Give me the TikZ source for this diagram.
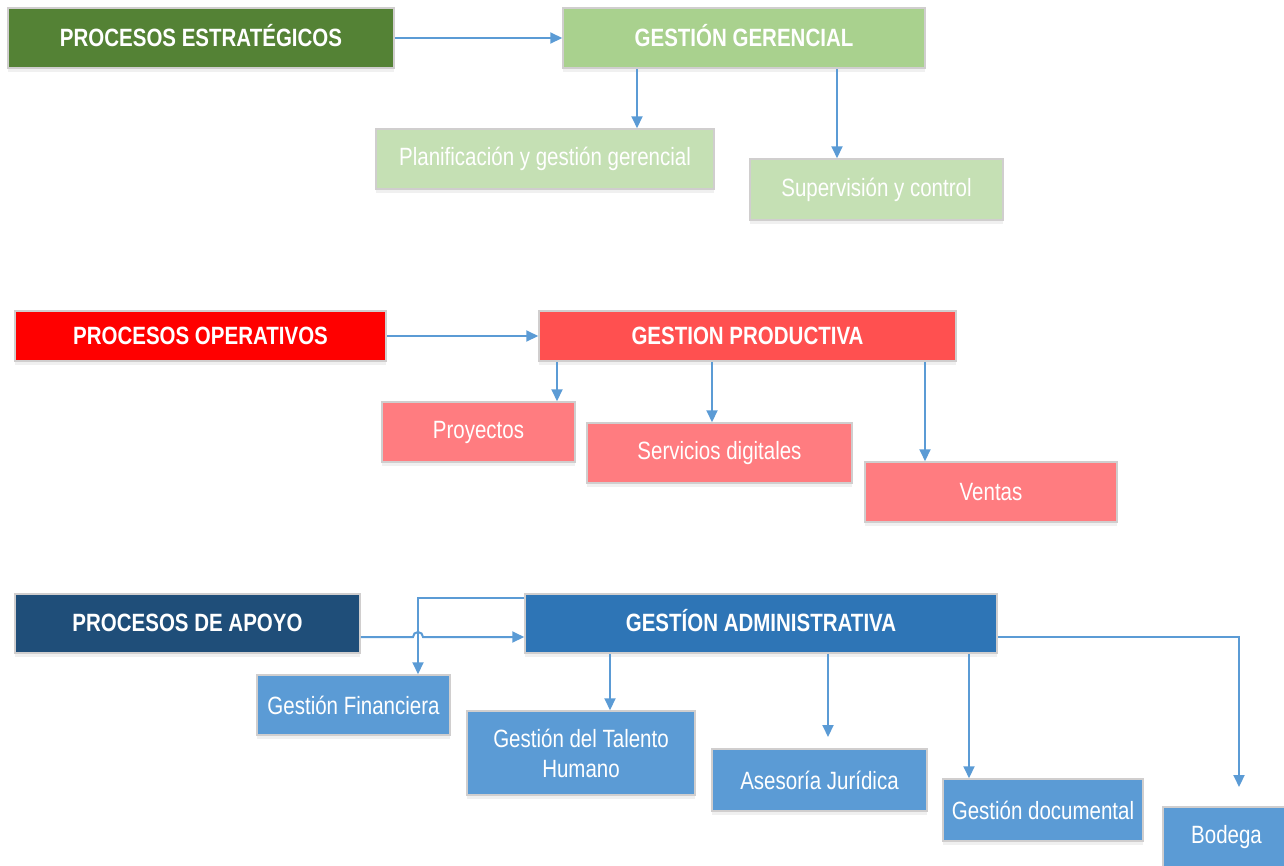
\documentclass[tikz,border=0pt]{standalone}
\usepackage{fontspec}
\setmainfont{Liberation Sans}[FakeStretch=0.82]
\usetikzlibrary{arrows.meta,shadows}
\definecolor{estA}{HTML}{548235}
\definecolor{estB}{HTML}{A9D18E}
\definecolor{estC}{HTML}{C5E0B4}
\definecolor{opA}{HTML}{FF0000}
\definecolor{opB}{HTML}{FF5050}
\definecolor{opC}{HTML}{FF7C80}
\definecolor{apA}{HTML}{1F4E79}
\definecolor{apB}{HTML}{2E75B6}
\definecolor{apC}{HTML}{5B9BD5}
\definecolor{linkc}{HTML}{5B9BD5}
\definecolor{rim}{HTML}{D0CECE}
\tikzset{
  box/.style={draw=rim, line width=1.5pt, text=white, align=center,
    inner sep=0pt, font=\fontsize{25}{30}\selectfont,
    drop shadow={opacity=0.12, shadow xshift=0pt, shadow yshift=-4pt}},
  head/.style={box, font=\fontsize{25}{30}\selectfont\bfseries,
    text height=18pt, text depth=2pt},
  sub/.style={box},
  arr/.style={draw=linkc, line width=2pt, -{Triangle[length=12pt,width=11pt]}},
}
\begin{document}
\begin{tikzpicture}[x=1pt, y=-1pt]
\useasboundingbox (0,0) rectangle (1284,865);

% Strategic processes
\node[head, fill=estA, minimum width=386pt, minimum height=60pt] (pe) at (201,38) {PROCESOS ESTRATÉGICOS};
\node[head, fill=estB, minimum width=362pt, minimum height=60pt] (gg) at (744,38) {GESTIÓN GERENCIAL};
\node[sub, fill=estC, minimum width=338pt, minimum height=60pt] (plan) at (545,159) {Planificación y gestión gerencial};
\node[sub, fill=estC, minimum width=253pt, minimum height=61pt] (sup) at (876.5,189.5) {Supervisión y control};

\draw[arr] (pe.east) -- (gg.west);
\draw[arr] (gg.south -| 637,0) -- (plan.north -| 637,0);
\draw[arr] (gg.south -| 837,0) -- (sup.north -| 837,0);

% Operational processes
\node[head, fill=opA, minimum width=371pt, minimum height=50pt] (po) at (200.5,336) {PROCESOS OPERATIVOS};
\node[head, fill=opB, minimum width=417pt, minimum height=50pt] (gp) at (747.5,336) {GESTION PRODUCTIVA};
\node[sub, fill=opC, minimum width=193pt, minimum height=60pt] (proy) at (478.5,432) {Proyectos};
\node[sub, fill=opC, minimum width=265pt, minimum height=60pt] (serv) at (719.5,453) {Servicios digitales};
\node[sub, fill=opC, minimum width=252pt, minimum height=60pt] (ven) at (991,492) {Ventas};

\draw[arr] (po.east) -- (gp.west);
\draw[arr] (gp.south -| 557,0) -- (proy.north -| 557,0);
\draw[arr] (gp.south -| 712,0) -- (serv.north -| 712,0);
\draw[arr] (gp.south -| 925,0) -- (ven.north -| 925,0);

% Support processes
\node[head, fill=apA, minimum width=345pt, minimum height=59pt] (pa) at (187.5,623.5) {PROCESOS DE APOYO};
\node[head, fill=apB, minimum width=472pt, minimum height=59pt] (ga) at (761,623.5) {GESTÍON ADMINISTRATIVA};
\node[sub, fill=apC, minimum width=193pt, minimum height=60pt] (gf) at (353.5,705) {Gestión Financiera};
\node[sub, fill=apC, minimum width=228pt, minimum height=84pt] (gth) at (581,753) {Gestión del Talento\\Humano};
\node[sub, fill=apC, minimum width=215pt, minimum height=62pt] (aj) at (819.5,780) {Asesoría Jurídica};
\node[sub, fill=apC, minimum width=200pt, minimum height=62pt] (gd) at (1043,810) {Gestión documental};
\node[sub, fill=apC, minimum width=127pt, minimum height=60pt] (bod) at (1226.5,837) {Bodega};

\coordinate (hop) at (418,637);
\coordinate (ajend) at (828,737);
\coordinate (bodend) at (1239,787);

\draw[arr] ([yshift=-13.5pt]pa.east) -- ([xshift=-5pt]hop)
  arc[start angle=180, end angle=0, radius=5pt] -- ([yshift=-13.5pt]ga.west);
\draw[arr] ([yshift=25.5pt]ga.west) -| (gf.north -| hop);
\draw[arr] (ga.south -| 610,0) -- (gth.north -| 610,0);
\draw[arr] (ga.south -| ajend) -- (ajend);
\draw[arr] (ga.south -| 969,0) -- (gd.north -| 969,0);
\draw[arr] ([yshift=-13.5pt]ga.east) -| (bodend);
\end{tikzpicture}
\end{document}
